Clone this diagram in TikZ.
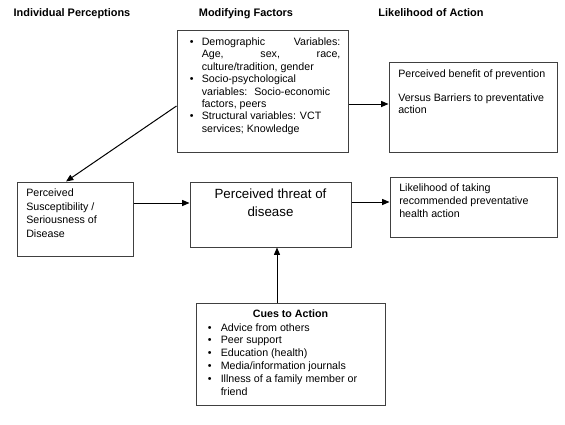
\documentclass[tikz,border=0pt]{standalone}
\usepackage{fontspec}
\setmainfont{Liberation Sans}
\usetikzlibrary{fit,arrows.meta}
\tikzset{
  box/.style={draw=black!75, line width=0.75pt, inner sep=0pt},
  arr/.style={draw=black, line width=0.75pt, -{Triangle[length=5.5pt,width=4.5pt]}},
  hdr/.style={font=\fontsize{8.2}{10}\selectfont\bfseries, inner sep=0pt, anchor=base},
  txt/.style={inner sep=0pt, anchor=base west},
}
\newcommand\nl{\hfil\break}
\newcommand\bitem[2]{\par\noindent\hangindent=#1\hangafter=1\makebox[#1][l]{\textbullet}#2\par}
\begin{document}
\begin{tikzpicture}[x=0.75pt,y=-0.75pt]
\fill[white] (0,0) rectangle (565,425);
\useasboundingbox (0,0) rectangle (565,425);

% headers
\node[hdr] (h1) at (72,16.5) {Individual Perceptions};
\node[hdr] (h2) at (246,16.5) {Modifying Factors};
\node[hdr] (h3) at (431,16.5) {Likelihood of Action};

% boxes
\node[box, fit={(177,30) (348,152)}] (mf) {};
\node[box, fit={(389,62) (557,152)}] (ben) {};
\node[box, fit={(17,182) (133,256)}] (sus) {};
\node[box, fit={(190,182) (351,247)}] (thr) {};
\node[box, fit={(390,177) (557,237)}] (lik) {};
\node[box, fit={(196,303) (385,405)}] (cue) {};

% texts
\node[txt] (mft) at (189.5,45.5) {\begin{minipage}[t]{113pt}\fontsize{8}{9.3}\selectfont\raggedright
\bitem{9pt}{Demographic\hfill Variables:\nl Age,\hfill sex,\hfill race,\nl culture/tradition, gender}
\bitem{9pt}{Socio-psychological\nl variables:~ Socio-economic\nl factors, peers}
\bitem{9pt}{Structural variables: VCT\nl services; Knowledge}
\end{minipage}};

\node[txt] (bent) at (398,77.5) {\begin{minipage}[t]{150pt}\fontsize{8}{9}\selectfont\raggedright
Perceived benefit of prevention\par\vspace{9pt}
Versus Barriers to preventative\nl action
\end{minipage}};

\node[txt] (sust) at (26,196.5) {\begin{minipage}[t]{100pt}\fontsize{8}{10.2}\selectfont\raggedright
Perceived\nl Susceptibility /\nl Seriousness of\nl Disease
\end{minipage}};

\node[inner sep=0pt, anchor=base] (thrt) at (270.5,198.5) {\begin{minipage}[t]{110pt}\fontsize{10}{13.5}\selectfont\centering
Perceived threat of\\disease
\end{minipage}};

\node[txt] (likt) at (399,191.5) {\begin{minipage}[t]{150pt}\fontsize{8}{9.75}\selectfont\raggedright
Likelihood of taking\nl recommended preventative\nl health action
\end{minipage}};

\node[inner sep=0pt, anchor=base, font=\fontsize{8}{9.6}\selectfont\bfseries] (cueh) at (290.5,317.5) {Cues to Action};
\node[txt] (cuet) at (207.5,331) {\begin{minipage}[t]{165pt}\fontsize{8}{9.6}\selectfont\raggedright
\bitem{9.75pt}{Advice from others}
\bitem{9.75pt}{Peer support}
\bitem{9.75pt}{Education (health)}
\bitem{9.75pt}{Media/information journals}
\bitem{9.75pt}{Illness of a family member or\nl friend}
\end{minipage}};

% connectors
\draw[arr] (mf.east |- 0,104) -- (ben.west |- 0,104);
\draw[arr] (mf.west |- 0,106) -- (sus.north -| 66,0);
\draw[arr] (sus.east |- 0,203) -- (thr.west |- 0,203);
\draw[arr] (thr.east |- 0,202) -- (lik.west |- 0,202);
\draw[arr] (cue.north -| 277,0) -- (thr.south -| 277,0);
\end{tikzpicture}
\end{document}
